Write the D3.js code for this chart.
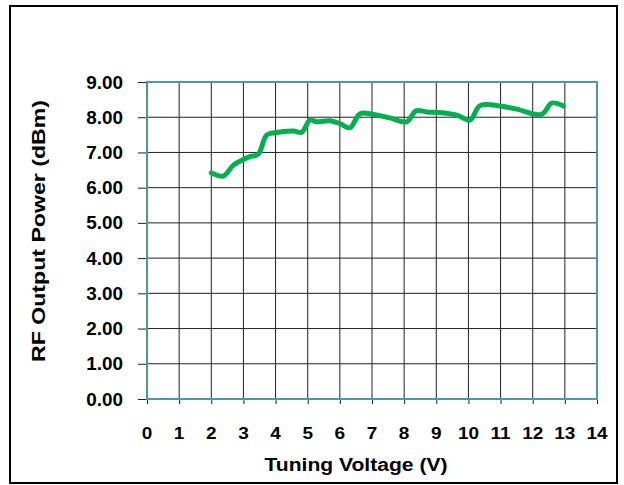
<!DOCTYPE html>
<html lang="en">
  <head>
    <meta charset="utf-8">
    <title>RF Output Power vs Tuning Voltage</title>
    <script src="https://d3js.org/d3.v7.js"></script>
    <style>
    body { margin: 0; background: white; }
    text { font-family: "Liberation Sans", Arial, sans-serif; font-weight: bold; fill: black; }
    </style>
  </head>
  <body>
  <script>

  // tuning voltage (V) and RF output power (dBm)
  var voltage = [2.0, 2.37, 2.69, 3.0, 3.2, 3.46, 3.72, 3.98, 4.55, 4.81, 5.07, 5.28, 5.69, 6.0, 6.31,
                 6.63, 7.04, 7.56, 8.08, 8.37, 8.70, 9.17, 9.64, 10.05, 10.36, 10.98, 11.5, 12.28, 12.59, 12.95];
  var power = [6.42, 6.33, 6.64, 6.80, 6.88, 6.95, 7.49, 7.56, 7.61, 7.57, 7.92, 7.87, 7.90, 7.82, 7.70,
               8.10, 8.08, 7.98, 7.87, 8.18, 8.15, 8.13, 8.06, 7.92, 8.33, 8.32, 8.23, 8.08, 8.40, 8.32];
  var xTicks = [0, 1, 2, 3, 4, 5, 6, 7, 8, 9, 10, 11, 12, 13, 14];
  var yTicks = [0, 1, 2, 3, 4, 5, 6, 7, 8, 9];

  var data = voltage.map(function(v, i) { return {v: v, p: power[i]}; });

  var w = 624, h = 485;
  var margin = {top: 82, right: 27, bottom: 86, left: 147};
  var innerWidth = w - margin.left - margin.right;
  var innerHeight = h - margin.top - margin.bottom;

  var svg = d3.select("body")
      .append("svg")
      .attr("width", w)
      .attr("height", h);

  // outer frame
  svg.append("rect")
     .attr("x", 10)
     .attr("y", 6)
     .attr("width", 607)
     .attr("height", 477)
     .attr("fill", "white")
     .attr("stroke", "black")
     .attr("stroke-width", 2);

  var g = svg.append("g")
      .attr("transform", `translate(${margin.left}, ${margin.top})`);

  var xScale = d3.scaleLinear()
      .domain([0, 14])
      .range([0, innerWidth]);

  var yScale = d3.scaleLinear()
      .domain([0, 9])
      .range([innerHeight, 0]);

  // grid
  g.selectAll(".vgrid")
   .data(xTicks)
   .join("line")
   .attr("class", "vgrid")
   .attr("x1", d => xScale(d))
   .attr("x2", d => xScale(d))
   .attr("y1", 0)
   .attr("y2", innerHeight)
   .attr("stroke", "#222")
   .attr("stroke-width", 1);

  g.selectAll(".hgrid")
   .data(yTicks)
   .join("line")
   .attr("class", "hgrid")
   .attr("x1", 0)
   .attr("x2", innerWidth)
   .attr("y1", d => yScale(d))
   .attr("y2", d => yScale(d))
   .attr("stroke", "#222")
   .attr("stroke-width", 1);

  // axis ticks (labels drawn separately so they can be widened like the original)
  var xAxis = d3.axisBottom(xScale)
      .tickValues(xTicks)
      .tickSize(5)
      .tickSizeOuter(0)
      .tickFormat("");
  var gx = g.append("g")
      .attr("transform", `translate(0, ${innerHeight})`)
      .call(xAxis);
  gx.select(".domain").remove();
  gx.selectAll("line").attr("stroke", "#222");

  var yAxis = d3.axisLeft(yScale)
      .tickValues(yTicks)
      .tickSize(9)
      .tickSizeOuter(0)
      .tickFormat("");
  var gy = g.append("g").call(yAxis);
  gy.select(".domain").remove();
  gy.selectAll("line").attr("stroke", "#222");

  // tick labels
  var fmtY = d3.format(".2f");
  g.selectAll(".ylab")
   .data(yTicks)
   .join("text")
   .attr("class", "ylab")
   .attr("text-anchor", "end")
   .attr("transform", d => `translate(-24, ${yScale(d) + 6.5}) scale(1.08, 1)`)
   .style("font-size", "17.5px")
   .text(d => fmtY(d));

  g.selectAll(".xlab")
   .data(xTicks)
   .join("text")
   .attr("class", "xlab")
   .attr("text-anchor", "middle")
   .attr("transform", d => `translate(${xScale(d)}, ${innerHeight + 40}) scale(1.15, 1)`)
   .style("font-size", "16.5px")
   .text(d => d);

  // plot frame
  g.append("rect")
   .attr("x", 0)
   .attr("y", 0)
   .attr("width", innerWidth)
   .attr("height", innerHeight)
   .attr("fill", "none")
   .attr("stroke", "#4b9a9e")
   .attr("stroke-width", 2);

  // data line
  var line = d3.line()
      .x(d => xScale(d.v))
      .y(d => yScale(d.p))
      .curve(d3.curveCatmullRom.alpha(0.5));

  g.append("path")
   .datum(data)
   .attr("d", line)
   .attr("fill", "none")
   .attr("stroke", "#00b050")
   .attr("stroke-width", 5)
   .attr("stroke-linejoin", "round")
   .attr("stroke-linecap", "round");

  // axis titles
  svg.append("text")
     .attr("text-anchor", "middle")
     .attr("transform", "translate(356, 471) scale(1.14, 1)")
     .style("font-size", "18.5px")
     .text("Tuning Voltage (V)");

  svg.append("text")
     .attr("text-anchor", "middle")
     .attr("transform", "translate(45, 231) rotate(-90) scale(1.25, 1)")
     .style("font-size", "18.5px")
     .text("RF Output Power (dBm)");

  </script>
  </body>
</html>
